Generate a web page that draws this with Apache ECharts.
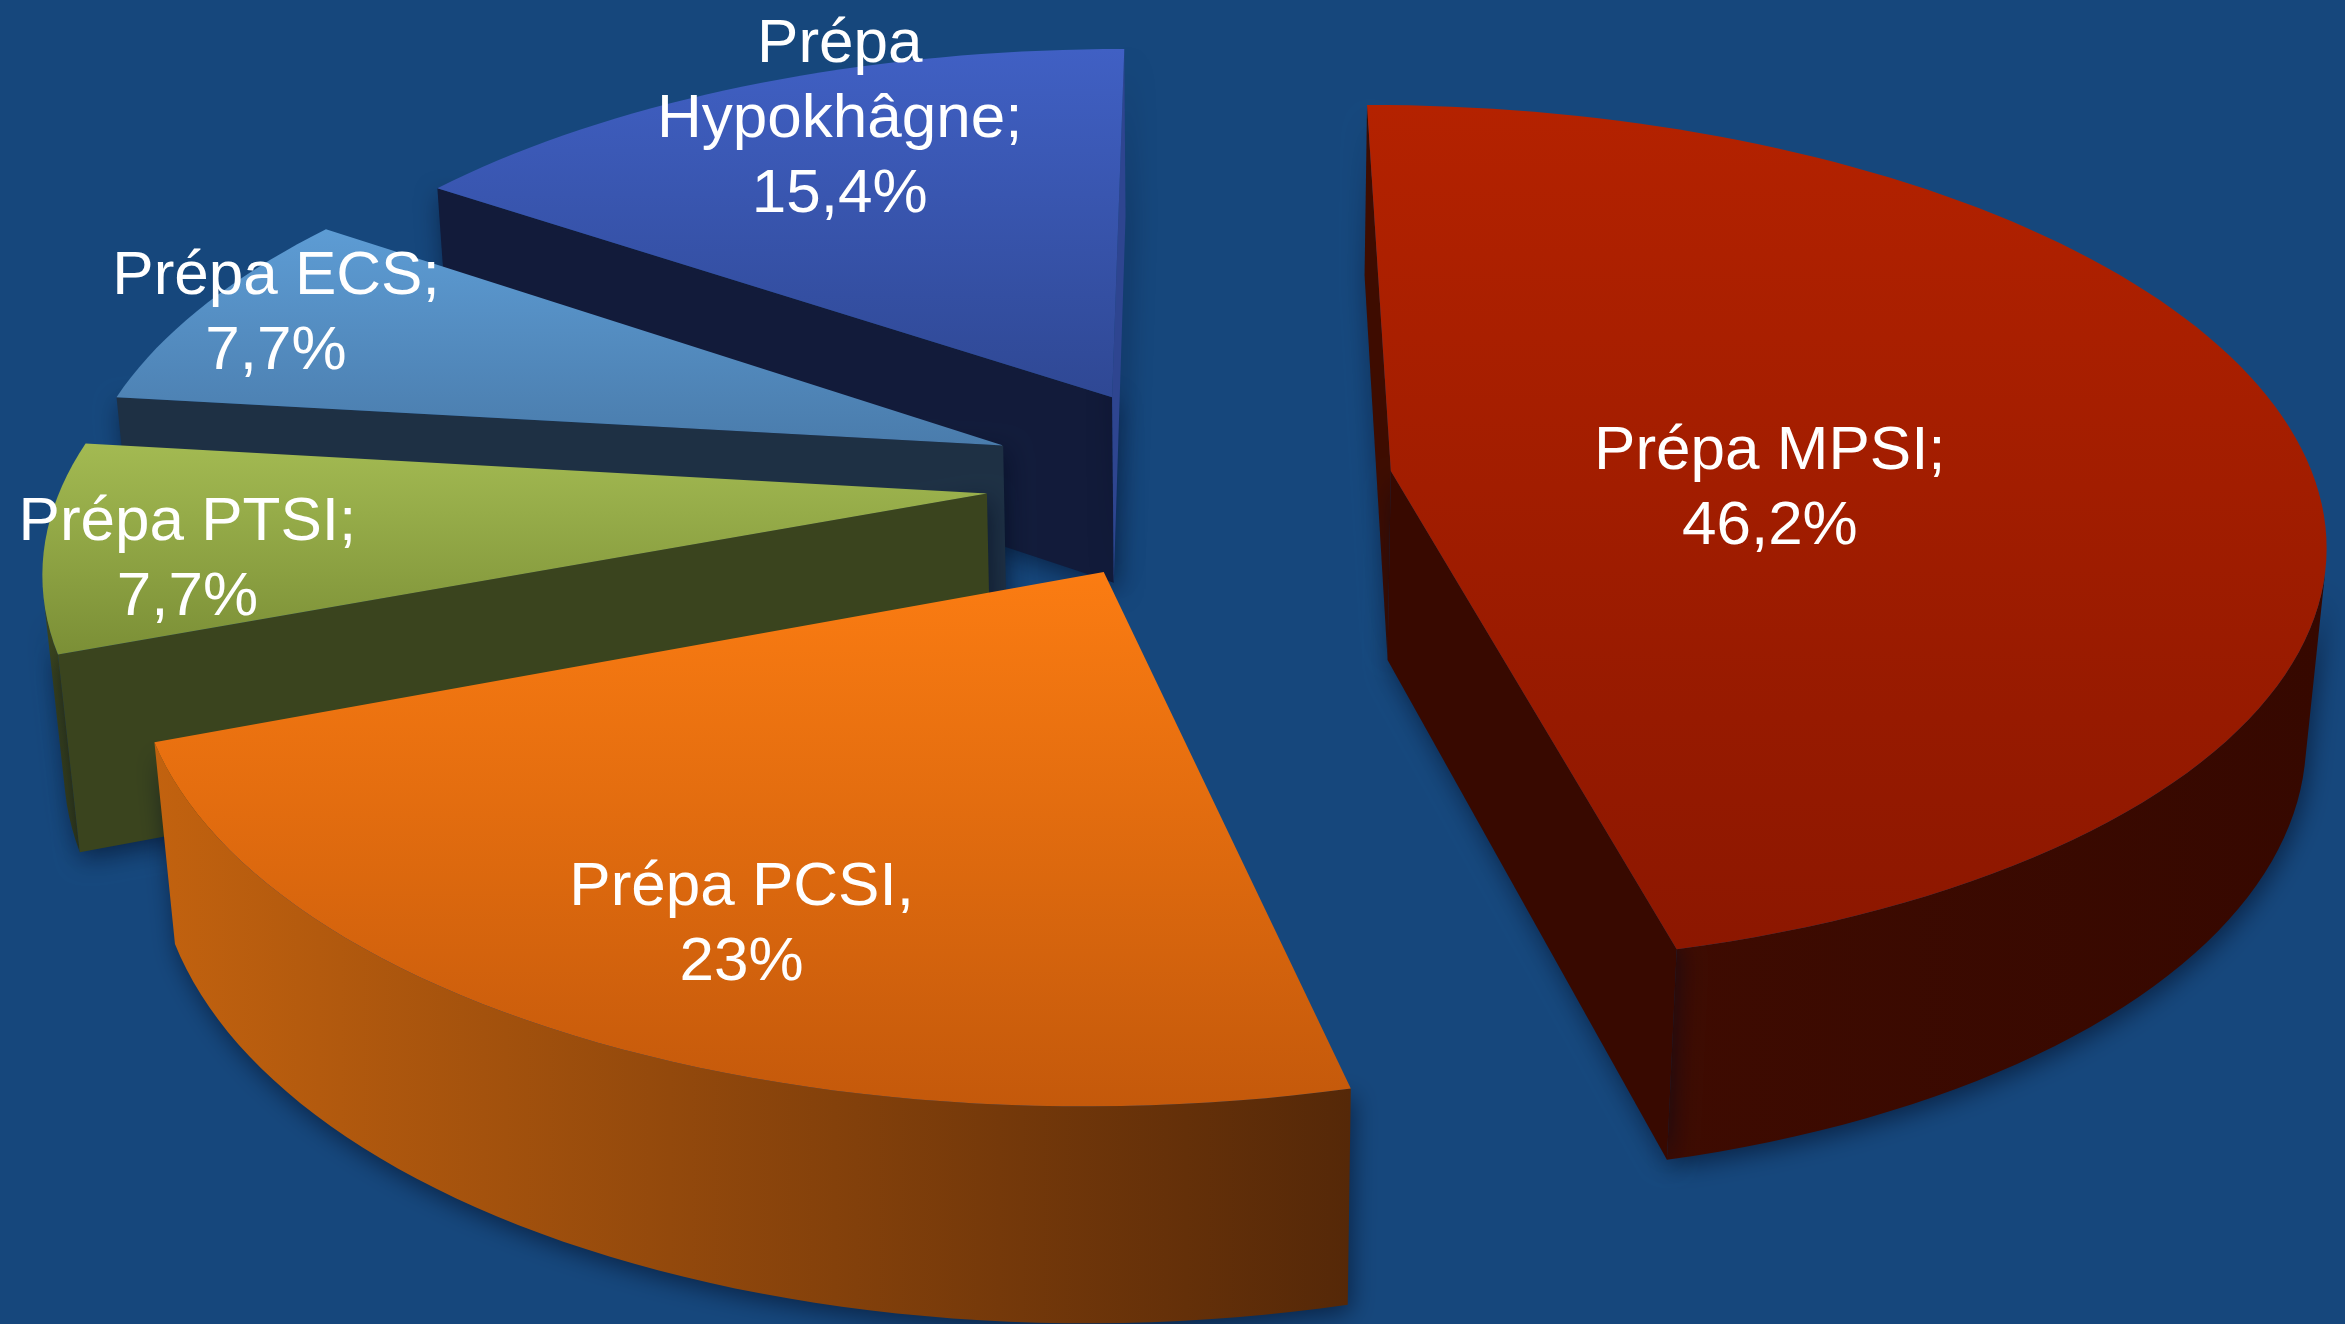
<!DOCTYPE html>
<html>
<head>
<meta charset="utf-8">
<script src="https://cdn.jsdelivr.net/npm/echarts@6/dist/echarts.min.js"></script>
<style>
  html, body { margin: 0; padding: 0; background: #16477c; }
  #main { width: 2345px; height: 1324px; }
</style>
</head>
<body>
<div id="main"></div>
<script>
// données
const names = ['Prépa MPSI', 'Prépa PCSI', 'Prépa PTSI', 'Prépa ECS', 'Prépa Hypokhâgne'];
const values = [46.2, 23, 7.7, 7.7, 15.4];
const labels = ['Prépa MPSI;\n46,2%', 'Prépa PCSI,\n23%', 'Prépa PTSI;\n7,7%', 'Prépa ECS;\n7,7%', 'Prépa\nHypokhâgne;\n15,4%'];

// couleurs : dessus (haut, bas), paroi extérieure (gauche, droite), parois radiales (début, fin)
const topColors = [['#b42200', '#8c1700'], ['#fb7c12', '#c4590b'], ['#a3ba52', '#7b8f36'], ['#5d9cd4', '#4a7cac'], ['#4060c4', '#2f4894']];
const wallColors = [['#3e0b01', '#360800'], ['#c2620f', '#552808'], ['#3a441e', '#323a1a'], ['#22384f', '#1d3045'], ['#15204a', '#121c3c']];
const sideColors = [['#3e0c00', '#380900'], ['#5a2c07', '#5a2c07'], ['#3a441e', '#3a441e'], ['#1e3044', '#1e3044'], ['#121b3a', '#2e4590']];

// mise en page 3D
const explode = [0.2, 0.235, 0.24, 0.24, 0.23];
const labelPos = [[0.41, -13], [0.77, 2.6], [0.85, 3.3], [0.91, -0.7], [0.85, -3.4]]; // rayon, décalage angle
const RAD = Math.PI / 180;
const TILT = 27.3 * RAD, DIST = 5.92, FOCAL = 924, CX = 1208, CY = 481, HEIGHT = 0.235;

// angles des parts (sens horaire depuis le haut)
const total = values.reduce((a, b) => a + b, 0);
const slices = [];
let acc = 90;
values.forEach(v => {
  const sweep = v / total * 360;
  slices.push({ a0: acc, a1: acc - sweep });
  acc -= sweep;
});
// ordre de dessin : du fond vers l'avant
const depthOf = i => {
  const m = (slices[i].a0 + slices[i].a1) / 2 * RAD;
  return explode[i] * Math.sin(m) + 0.5 * Math.sin(m);
};
const order = values.map((v, i) => i).sort((a, b) => depthOf(b) - depthOf(a));

function proj(X, Y, Z) {
  const w = 1 + (Y * Math.cos(TILT) - Z * Math.sin(TILT)) / DIST;
  return [CX + FOCAL * X / w, CY - FOCAL * (Y * Math.sin(TILT) + Z * Math.cos(TILT)) / w];
}
const cam = [0, -DIST * Math.cos(TILT)];

const shadow = { shadowBlur: 24, shadowColor: 'rgba(0,8,28,0.55)', shadowOffsetX: 3, shadowOffsetY: 7 };

function renderItem(params, api) {
  const i = params.dataIndex;
  const k = api.getWidth() / 2345;
  const P = (X, Y, Z) => { const p = proj(X, Y, Z); return [p[0] * k, p[1] * k]; };
  const sl = slices[i];
  const mid = (sl.a0 + sl.a1) / 2 * RAD;
  const ox = explode[i] * Math.cos(mid), oy = explode[i] * Math.sin(mid);
  const n = Math.max(8, Math.ceil((sl.a0 - sl.a1) / 1.5));
  const ts = [];
  for (let j = 0; j <= n; j++) ts.push((sl.a0 - (sl.a0 - sl.a1) * j / n) * RAD);
  const rank = order.indexOf(i);
  const children = [];

  // paroi extérieure visible
  const vis = [];
  for (let j = 0; j < n; j++) {
    const tm = (ts[j] + ts[j + 1]) / 2;
    const nx = Math.cos(tm), ny = Math.sin(tm);
    if ((cam[0] - ox - nx) * nx + (cam[1] - oy - ny) * ny > 0) vis.push(j);
  }
  if (vis.length) {
    const j0 = vis[0], j1 = vis[vis.length - 1] + 1;
    const pts = [];
    for (let j = j0; j <= j1; j++) pts.push(P(ox + Math.cos(ts[j]), oy + Math.sin(ts[j]), 0));
    for (let j = j1; j >= j0; j--) pts.push(P(ox + Math.cos(ts[j]), oy + Math.sin(ts[j]), -HEIGHT));
    children.push({
      type: 'polygon', z2: rank * 10 + 1,
      shape: { points: pts },
      style: Object.assign({
        fill: new echarts.graphic.LinearGradient(0, 0, 1, 0, [
          { offset: 0, color: wallColors[i][0] }, { offset: 1, color: wallColors[i][1] }
        ])
      }, shadow)
    });
  }

  // parois radiales
  [[sl.a0, sl.a0 + 90, sideColors[i][0]], [sl.a1, sl.a1 - 90, sideColors[i][1]]].forEach(r => {
    const nx = Math.cos(r[1] * RAD), ny = Math.sin(r[1] * RAD);
    if ((cam[0] - ox) * nx + (cam[1] - oy) * ny <= 0) return;
    const ex = ox + Math.cos(r[0] * RAD), ey = oy + Math.sin(r[0] * RAD);
    children.push({
      type: 'polygon', z2: rank * 10 + 2,
      shape: { points: [P(ox, oy, 0), P(ex, ey, 0), P(ex, ey, -HEIGHT), P(ox, oy, -HEIGHT)] },
      style: Object.assign({ fill: r[2] }, shadow)
    });
  });

  // dessus
  const top = [P(ox, oy, 0)].concat(ts.map(t => P(ox + Math.cos(t), oy + Math.sin(t), 0)));
  children.push({
    type: 'polygon', z2: rank * 10 + 3,
    shape: { points: top },
    style: {
      fill: new echarts.graphic.LinearGradient(0, 0, 0, 1, [
        { offset: 0, color: topColors[i][0] }, { offset: 1, color: topColors[i][1] }
      ])
    }
  });

  // étiquette
  const la = mid + labelPos[i][1] * RAD;
  const lp = P(ox + labelPos[i][0] * Math.cos(la), oy + labelPos[i][0] * Math.sin(la), 0);
  children.push({
    type: 'text', z2: 100,
    style: {
      text: labels[i], x: lp[0], y: lp[1],
      fill: '#ffffff', font: (62 * k) + 'px "Liberation Sans", Arial, sans-serif',
      align: 'center', verticalAlign: 'middle', lineHeight: 75 * k
    }
  });

  return { type: 'group', children: children };
}

const myChart = echarts.init(document.getElementById('main'));
myChart.setOption({
  backgroundColor: '#16477c',
  animation: false,
  series: [{
    type: 'custom',
    coordinateSystem: 'none',
    renderItem: renderItem,
    data: values.map((v, i) => ({ name: names[i], value: [i, v] }))
  }]
});
</script>
</body>
</html>
